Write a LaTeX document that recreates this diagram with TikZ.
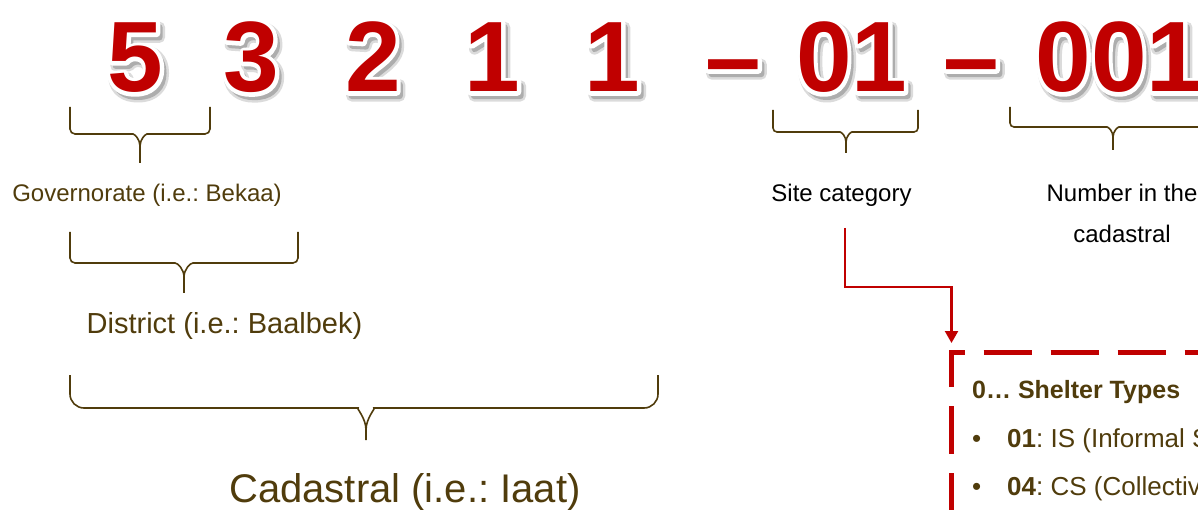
\documentclass[tikz,border=0pt]{standalone}
\usepackage{fontspec}
\setmainfont{Liberation Sans}
\usetikzlibrary{arrows.meta, positioning, calc}
\frenchspacing

\definecolor{codered}{RGB}{192,0,0}
\definecolor{labelbrown}{RGB}{80,60,12}

% text drawn with a stroked rim: width, stroke colour (r g b), text
\newcommand{\rimtext}[3]{\special{pdf:code q 2 Tr #1 w 1 j #2 RG}#3\special{pdf:code Q}}

% one block of the site code: soft shadow, white rim, red digits
\newcommand{\codepart}[3]{%
  \node[codenum, text={rgb,255:red,215;green,215;blue,215}] at ($(#2,92)+(3,4)$) {\rimtext{11}{0.86 0.86 0.86}{#3}};
  \node[codenum, text={rgb,255:red,170;green,170;blue,170}] at ($(#2,92)+(3,4)$) {\rimtext{6}{0.68 0.68 0.68}{#3}};
  \node[codenum, text=white] at (#2,92) {\rimtext{7.5}{1 1 1}{#3}};
  \node[codenum, text=codered] (#1) at (#2,92) {#3};
}

% curly brace under a block: x1, x2, top, line, tip x, tip y, corner, bend
\newcommand{\codebrace}[8]{%
  \draw[brace] (#1,#3) [rounded corners=#7] -- (#1,#4) -- ({#5-#8},#4) [sharp corners]
    .. controls ({#5-0.45*#8},#4) and (#5,{#4+0.45*#8}) .. (#5,{#4+#8}) -- (#5,#6);
  \draw[brace] (#2,#3) [rounded corners=#7] -- (#2,#4) -- ({#5+#8},#4) [sharp corners]
    .. controls ({#5+0.45*#8},#4) and (#5,{#4+0.45*#8}) .. (#5,{#4+#8});
}

\begin{document}
\begin{tikzpicture}[
        x=1pt, y=-1pt,
        codenum/.style={font=\fontsize{100}{100}\selectfont\bfseries, anchor=base, inner sep=0pt},
        tag/.style={font=\fontsize{24}{28}\selectfont, text=labelbrown, anchor=base, inner sep=0pt},
        brace/.style={draw=labelbrown, line width=1.6pt},
        flowarrow/.style={draw=codered, line width=2.2pt, -{Triangle[width=13pt, length=12pt]}, shorten >=9pt},
        shelterdash/.style={draw=codered, line width=5pt, dash pattern=on 48pt off 19pt},
        shelterhead/.style={font=\fontsize{25}{30}\selectfont\bfseries, text=labelbrown, anchor=base west, inner sep=0pt},
        shelteritem/.style={font=\fontsize{26}{30}\selectfont, text=labelbrown, anchor=base west, inner sep=0pt}
    ]
    \useasboundingbox (0,0) rectangle (1198,510);
    \clip (0,0) rectangle (1198,510);

    % the code 5 3 2 1 1 - 01 - 001
    \codepart{gov}{135.5}{5}
    \codepart{dist}{251.5}{3}
    \codepart{cad}{373}{2}
    \codepart{cadb}{492.5}{1}
    \codepart{cadc}{612.5}{1}
    \codepart{dasha}{733.5}{–}
    \codepart{site}{851.8}{01}
    \codepart{dashb}{971.5}{–}
    \codepart{num}{1119}{001}

    % braces
    \codebrace{70}{210}{107}{134}{140}{163}{5}{12}
    \codebrace{70}{298}{232}{263}{184}{293}{5}{14}
    \codebrace{70}{658}{375}{408}{366}{440}{14}{22}
    \codebrace{773}{918}{110}{132}{846}{153}{4}{10}
    \codebrace{1010}{1216}{107}{127}{1113}{150}{4}{10}

    % labels
    \node[tag] (govlbl) at (147,202) {Governorate (i.e.: Bekaa)};
    \node[tag, font=\fontsize{29}{34}\selectfont] (distlbl) at (224.5,333) {District (i.e.: Baalbek)};
    \node[tag, font=\fontsize{40}{46}\selectfont] (cadlbl) at (405,502) {Cadastral (i.e.: Iaat)};
    \node[tag, text=black] (sitelbl) at (841.5,202) {Site category};
    \node[tag, text=black] (numlbl) at (1122,202) {Number in the};
    \node[tag, text=black] (numlblb) at (1122,243) {cadastral};

    % shelter types box
    \coordinate (shelter) at (951.5,352);
    \draw[shelterdash] ($(shelter)+(0,35)$) -- (shelter) -- ++(300,0);
    \draw[shelterdash] ($(shelter)+(0,54)$) -- ++(0,200);

    \node[shelterhead] (stypes) at (972,398) {0… Shelter Types};
    \node[shelteritem] (bula) at (972,447) {•};
    \node[shelteritem] (isitem) at (1007,447) {\textbf{01}: IS (Informal S};
    \node[shelteritem] (bulb) at (972,495) {•};
    \node[shelteritem] (csitem) at (1007,495) {\textbf{04}: CS (Collectiv};

    % site category leads to the shelter types
    \coordinate (catdrop) at (845,228);
    \coordinate (catbend) at (845,287);
    \draw[flowarrow] (catdrop) -- (catbend) -| (shelter);

\end{tikzpicture}
\end{document}
